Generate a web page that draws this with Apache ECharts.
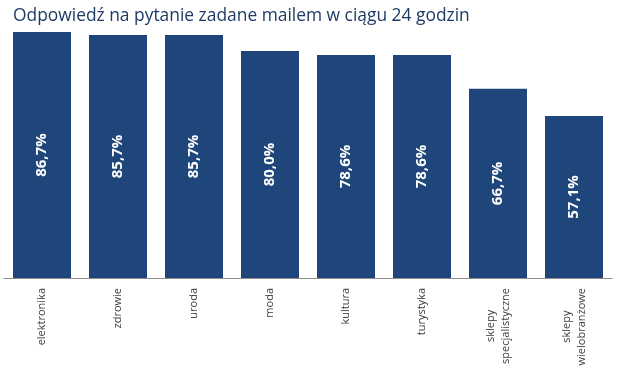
<!DOCTYPE html>
<html><head><meta charset="utf-8">
<script src="https://cdn.jsdelivr.net/npm/echarts@6/dist/echarts.min.js"></script>
<style>html,body{margin:0;padding:0;background:#fff}#c{width:618px;height:379px}</style>
</head><body><div id="c"></div>
<script>
const titleText = 'Odpowiedź na pytanie zadane mailem w ciągu 24 godzin';
const categories = ['elektronika','zdrowie','uroda','moda','kultura','turystyka','sklepy\nspecjalistyczne','sklepy\nwielobranżowe'];
const values = [86.7, 85.7, 85.7, 80.0, 78.6, 78.6, 66.7, 57.1];

const chart = echarts.init(document.getElementById('c'), null, {renderer:'canvas'});
chart.setOption({
  animation:false,
  title:{text:titleText, left:8, top:3, textStyle:{fontFamily:'Open Sans', fontSize:17.4, fontWeight:'normal', color:'#1F3B64'}},
  grid:{left:4, right:6, top:22.7, height:255.3, containLabel:false},
  xAxis:{type:'category', data:categories,
    axisLine:{lineStyle:{color:'#8C8C8C', width:1}},
    axisTick:{show:false},
    axisLabel:{rotate:90, margin:10, interval:0, color:'#404040', fontFamily:'Open Sans', fontSize:11,
      formatter: v => v.split('\n').map(s => '{a|' + s + '}').join('\n'),
      rich:{a:{align:'center', fontFamily:'Open Sans', fontSize:11, color:'#404040', lineHeight:15}}}
  },
  yAxis:{type:'value', min:0, max:90, show:false, splitLine:{show:false}},
  series:[{type:'bar', data:values, barWidth:58,
    itemStyle:{color:'#1F467B'},
    label:{show:true, position:'inside', rotate:90, color:'#fff', fontFamily:'Open Sans', fontWeight:'bold', fontSize:15,
      formatter: p => p.value.toFixed(1).replace('.', ',') + '%'}
  }]
});
</script></body></html>
